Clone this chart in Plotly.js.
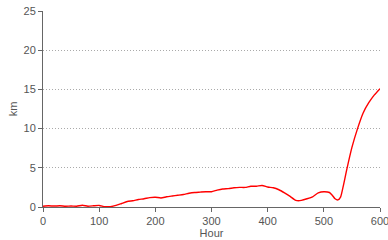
<!DOCTYPE html>
<html>
<head>
<meta charset="utf-8">
<script src="https://cdn.plot.ly/plotly-3.0.1.min.js"></script>
<style>html,body{margin:0;padding:0;background:#fff;}#chart{width:388px;height:240px;}</style>
</head>
<body>
<div id="chart"></div>
<script>
var hours = [0,10,20,30,40,50,60,70,80,90,100,110,120,130,140,150,160,170,180,190,200,210,220,230,240,250,260,270,280,290,300,310,320,330,340,350,360,370,380,390,400,410,420,430,440,450,455,460,470,480,490,500,510,515,520,525,530,535,540,550,560,570,580,590,600];
var km = [0.1,0.15,0.12,0.15,0.1,0.12,0.1,0.22,0.1,0.15,0.2,0.05,0.05,0.2,0.45,0.7,0.8,0.95,1.05,1.2,1.25,1.15,1.3,1.4,1.5,1.6,1.75,1.85,1.9,1.95,1.95,2.15,2.3,2.35,2.45,2.5,2.5,2.65,2.65,2.75,2.55,2.45,2.2,1.8,1.35,0.85,0.8,0.85,1.05,1.3,1.8,1.95,1.85,1.5,1.05,0.9,1.3,2.8,4.5,7.6,10.0,12.0,13.3,14.3,15.1];
var xTicks = [0,100,200,300,400,500,600];
var yTicks = [0,5,10,15,20,25];

var trace = {x: hours, y: km, type: 'scatter', mode: 'lines',
  line: {color: '#ff0000', width: 1.4, shape: 'spline', smoothing: 0.5}, hoverinfo: 'none'};
var axisFont = {family: 'Liberation Sans, Arial, sans-serif', size: 11, color: '#555'};
var layout = {
  width: 388, height: 240,
  margin: {l: 43, r: 8, t: 11, b: 33},
  paper_bgcolor: '#fff', plot_bgcolor: '#fff',
  showlegend: false,
  font: axisFont,
  xaxis: {range: [0, 600], tickvals: xTicks, ticks: 'outside', ticklen: 4, tickcolor: '#666',
    showline: true, linecolor: '#666', linewidth: 1, showgrid: false, zeroline: false,
    ticklabeloverflow: 'allow',
    tickfont: axisFont, title: {text: 'Hour', font: axisFont, standoff: 2}},
  yaxis: {range: [0, 25], tickvals: yTicks, ticks: 'outside', ticklen: 4, tickcolor: '#666',
    showline: true, linecolor: '#666', linewidth: 1, showgrid: true, gridcolor: '#aaa',
    griddash: '1px,2px', gridwidth: 1, zeroline: false,
    tickfont: axisFont, title: {text: 'km', font: axisFont, standoff: 3}}
};
Plotly.newPlot('chart', [trace], layout, {staticPlot: true, displayModeBar: false});
</script>
</body>
</html>
